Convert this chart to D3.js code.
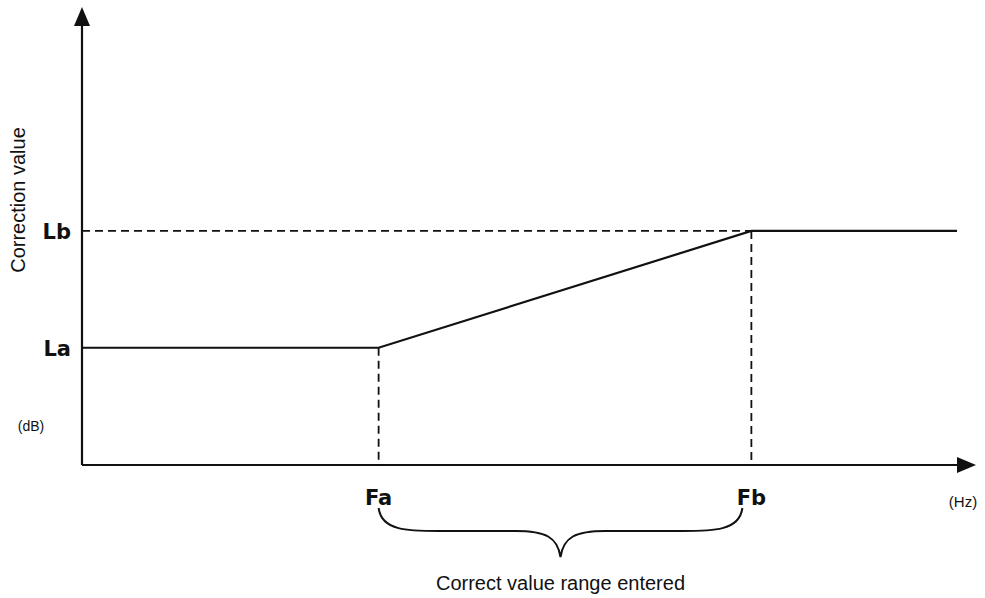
<!DOCTYPE html>
<html><head><meta charset="utf-8">
<script src="https://cdn.jsdelivr.net/npm/d3@7"></script>
<style>body{margin:0;background:#fff}</style>
</head><body>
<svg id="c" width="985" height="598"></svg>
<script>
// Data (abstract units)
const xTickLabels = ["Fa", "Fb"];
const xTickValues = [3.39, 7.65];
const yTickLabels = ["La", "Lb"];
const yTickValues = [2.6, 5.19];
const curveX = [0, 3.39, 7.65, 10];
const curveY = [2.6, 2.6, 5.19, 5.19];
const xUnit = "(Hz)";
const yUnit = "(dB)";
const yTitle = "Correction value";
const rangeNote = "Correct value range entered";

const svg = d3.select("#c");
const x = d3.scaleLinear().domain([0, 10]).range([82, 957]);
const y = d3.scaleLinear().domain([0, 10]).range([465, 14]);
const ink = "#111";

// axes lines
svg.append("line").attr("x1", x(0)).attr("x2", 962).attr("y1", y(0)).attr("y2", y(0))
  .attr("stroke", ink).attr("stroke-width", 2.2);
svg.append("line").attr("x1", x(0)).attr("x2", x(0)).attr("y1", y(0)).attr("y2", 20)
  .attr("stroke", ink).attr("stroke-width", 2.2);
// arrowheads
svg.append("path").attr("d", `M${x(0)-8},26 L${x(0)},7 L${x(0)+8},26 Z`).attr("fill", ink);
svg.append("path").attr("d", `M957,${y(0)-8} L976,${y(0)} L957,${y(0)+8} Z`).attr("fill", ink);

// dashed guides
const dash = "8,5";
svg.append("line").attr("x1", x(0)).attr("x2", x(xTickValues[1])).attr("y1", y(yTickValues[1])).attr("y2", y(yTickValues[1]))
  .attr("stroke", ink).attr("stroke-width", 1.8).attr("stroke-dasharray", dash);
xTickValues.forEach((v, i) => {
  svg.append("line").attr("x1", x(v)).attr("x2", x(v)).attr("y1", y(curveY[i + 1])).attr("y2", y(0))
    .attr("stroke", ink).attr("stroke-width", 1.8).attr("stroke-dasharray", dash);
});

// curve
const pts = curveX.map((v, i) => [v, curveY[i]]);
svg.append("path").datum(pts)
  .attr("d", d3.line().x(d => x(d[0])).y(d => y(d[1])))
  .attr("fill", "none").attr("stroke", ink).attr("stroke-width", 2.2);

// tick labels
const bold = "'DejaVu Sans', sans-serif";
xTickLabels.forEach((t, i) => {
  svg.append("text").attr("x", x(xTickValues[i])).attr("y", 505).attr("text-anchor", "middle")
    .attr("font-family", bold).attr("font-weight", "bold").attr("font-size", 21).attr("fill", ink).text(t);
});
yTickLabels.forEach((t, i) => {
  svg.append("text").attr("x", 71).attr("y", y(yTickValues[i]) + 8).attr("text-anchor", "end")
    .attr("font-family", bold).attr("font-weight", "bold").attr("font-size", 21).attr("fill", ink).text(t);
});

const plain = "'Liberation Sans', Arial, sans-serif";
svg.append("text").attr("x", 31).attr("y", 431).attr("text-anchor", "middle")
  .attr("font-family", plain).attr("font-size", 14).attr("fill", ink).text(yUnit);
svg.append("text").attr("x", 963).attr("y", 507).attr("text-anchor", "middle")
  .attr("font-family", plain).attr("font-size", 15).attr("fill", ink).text(xUnit);
svg.append("text").attr("transform", "translate(25,200) rotate(-90)").attr("text-anchor", "middle")
  .attr("font-family", plain).attr("font-size", 20).attr("fill", ink).text(yTitle);

// brace
const bx0 = x(xTickValues[0]), bx1 = x(xTickValues[1]) - 9, bm = (bx0 + bx1) / 2;
const by0 = 508, by1 = 531, by2 = 557;
const brace = `M${bx0},${by0} C${bx0+3},${by1} ${bx0+30},${by1} ${bx0+60},${by1}
  L${bm-45},${by1} C${bm-15},${by1} ${bm-3},${by1+6} ${bm},${by2}
  C${bm+3},${by1+6} ${bm+15},${by1} ${bm+45},${by1}
  L${bx1-60},${by1} C${bx1-30},${by1} ${bx1-3},${by1} ${bx1},${by0}`;
svg.append("path").attr("d", brace).attr("fill", "none").attr("stroke", ink).attr("stroke-width", 2);

svg.append("text").attr("x", bm).attr("y", 590).attr("text-anchor", "middle")
  .attr("font-family", plain).attr("font-size", 20).attr("fill", ink).text(rangeNote);
</script>
</body></html>
